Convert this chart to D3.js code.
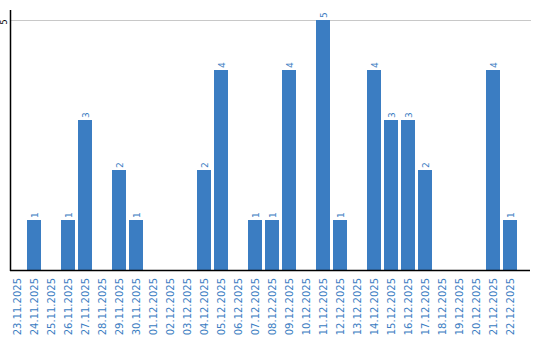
<!DOCTYPE html>
<html><head><meta charset="utf-8">
<script src="https://cdn.jsdelivr.net/npm/d3@7"></script>
<style>body{margin:0;background:#fff}svg{display:block}</style>
</head><body>
<script>
const categories = ["23.11.2025","24.11.2025","25.11.2025","26.11.2025","27.11.2025","28.11.2025","29.11.2025","30.11.2025","01.12.2025","02.12.2025","03.12.2025","04.12.2025","05.12.2025","06.12.2025","07.12.2025","08.12.2025","09.12.2025","10.12.2025","11.12.2025","12.12.2025","13.12.2025","14.12.2025","15.12.2025","16.12.2025","17.12.2025","18.12.2025","19.12.2025","20.12.2025","21.12.2025","22.12.2025"];
const values = [0,1,0,1,3,0,2,1,0,0,0,2,4,0,1,1,4,0,5,1,0,4,3,3,2,0,0,0,4,1];
const yTicks = [5];

const W = 540, H = 340;
const data = categories.map((c, i) => ({c, v: values[i]}));
const svg = d3.select("body").append("svg").attr("width", W).attr("height", H);
const x = d3.scaleBand().domain(categories).range([10, 517]).paddingInner(3/17).paddingOuter(0);
const y = d3.scaleLinear().domain([0, 5]).range([270, 20]);
const blue = "#3b7dc2";

svg.selectAll("line.grid").data(yTicks).join("line")
  .attr("x1", 11).attr("x2", 531).attr("y1", d => y(d)+0.5).attr("y2", d => y(d)+0.5)
  .attr("stroke", "#c8c8c8").attr("stroke-width", 1);

svg.selectAll("text.ytick").data(yTicks).join("text")
  .attr("transform", d => `translate(7,${y(d) + 2}) rotate(-90)`)
  .attr("text-anchor", "middle").attr("font-family", "DejaVu Sans").attr("font-size", 8)
  .attr("fill", "#000").text(d => d);

svg.selectAll("rect.bar").data(data).join("rect")
  .attr("x", d => x(d.c)).attr("width", x.bandwidth())
  .attr("y", d => y(d.v)).attr("height", d => y(0) - y(d.v)).attr("fill", blue);

svg.selectAll("text.val").data(data.filter(d => d.v > 0)).join("text")
  .attr("transform", d => `translate(${x(d.c) + x.bandwidth()/2 + 3.5},${y(d.v) - 2}) rotate(-90)`)
  .attr("text-anchor", "start").attr("font-family", "DejaVu Sans").attr("font-size", 9)
  .attr("fill", blue).text(d => d.v);

svg.selectAll("text.xl").data(categories).join("text")
  .attr("transform", d => `translate(${x(d) + x.bandwidth()/2 + 3.5},278) rotate(-90)`)
  .attr("text-anchor", "end").attr("font-family", "DejaVu Sans").attr("font-size", 10)
  .attr("fill", blue).text(d => d);

svg.append("line").attr("x1", 10.5).attr("x2", 10.5).attr("y1", 10).attr("y2", 271)
  .attr("stroke", "#000").attr("stroke-width", 1.5);
svg.append("line").attr("x1", 10).attr("x2", 530).attr("y1", 270.5).attr("y2", 270.5)
  .attr("stroke", "#000").attr("stroke-width", 1.5);
</script>
</body></html>
